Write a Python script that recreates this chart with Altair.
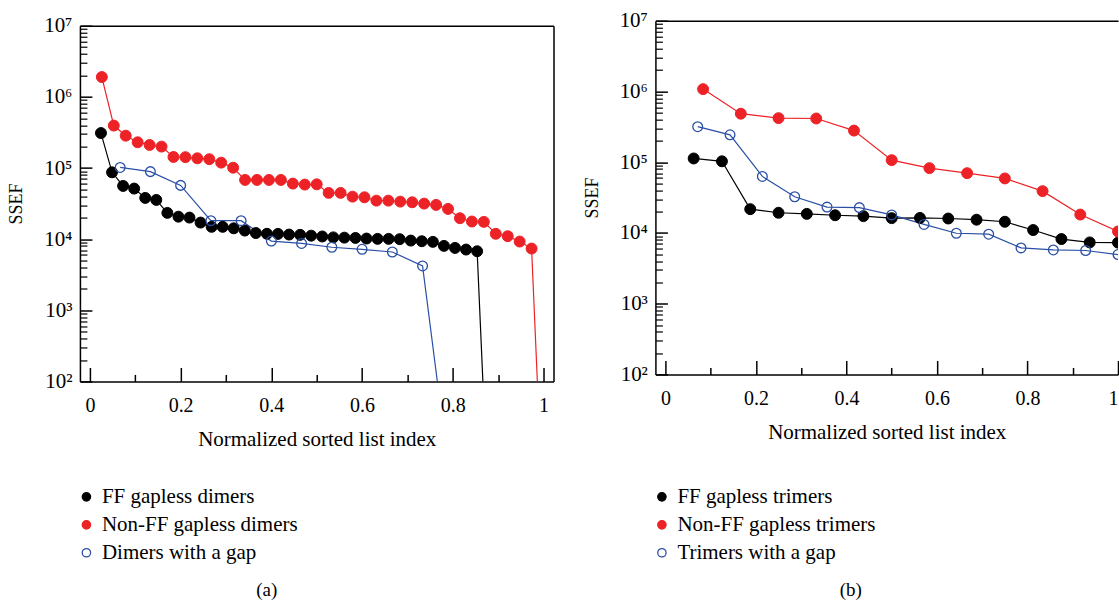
import altair as alt
import pandas as pd

FONT = "Liberation Serif"
BLACK, RED, BLUE = "#000000", "#ec2227", "#2a4fa6"

# ---------------- Panel (a): dimers ----------------
A_NAMES = ["FF gapless dimers", "Non-FF gapless dimers", "Dimers with a gap"]
A_TOTALS = [41, 38, 15]          # list lengths used for the normalized index
A_FF = [3.1e5, 8.7e4, 5.6e4, 5.14e4, 3.8e4, 3.56e4, 2.34e4, 2.07e4, 2.01e4, 1.71e4,
        1.49e4, 1.49e4, 1.42e4, 1.32e4, 1.22e4, 1.19e4, 1.185e4, 1.16e4, 1.15e4, 1.12e4,
        1.09e4, 1.06e4, 1.05e4, 1.04e4, 1.02e4, 1.01e4, 1.01e4, 1.0e4, 9550, 9350,
        9160, 8040, 7530, 7140, 6760, 2]
A_NONFF = [1.9e6, 3.95e5, 2.85e5, 2.3e5, 2.11e5, 2.0e5, 1.43e5, 1.42e5, 1.37e5, 1.33e5,
           1.19e5, 1.01e5, 6.8e4, 6.8e4, 6.8e4, 6.8e4, 6.04e4, 5.85e4, 5.9e4, 4.47e4,
           4.47e4, 3.96e4, 3.88e4, 3.48e4, 3.48e4, 3.37e4, 3.3e4, 3.16e4, 3.03e4, 2.66e4,
           1.97e4, 1.77e4, 1.75e4, 1.19e4, 1.1e4, 9250, 7380, 1]
A_GAP = [1.02e5, 8.9e4, 5.7e4, 1.82e4, 1.82e4, 9400, 8700, 7700, 7200, 6600, 4200, 2]

# ---------------- Panel (b): trimers ----------------
B_NAMES = ["FF gapless trimers", "Non-FF gapless trimers", "Trimers with a gap"]
B_TOTALS = [16, 12, 14]
B_FF = [1.13e5, 1.03e5, 2.17e4, 1.93e4, 1.86e4, 1.78e4, 1.73e4, 1.62e4, 1.63e4, 1.6e4,
        1.54e4, 1.44e4, 1.1e4, 8200, 7350, 7300]
B_NONFF = [1.08e6, 4.85e5, 4.2e5, 4.15e5, 2.8e5, 1.07e5, 8.25e4, 7.0e4, 5.9e4, 3.9e4,
           1.82e4, 1.05e4]
B_GAP = [3.18e5, 2.44e5, 6.3e4, 3.25e4, 2.32e4, 2.28e4, 1.8e4, 1.32e4, 9900, 9600,
         6150, 5750, 5650, 4950]

X_MAJOR = [0, 0.2, 0.4, 0.6, 0.8, 1.0]
X_MINOR = [0.1, 0.3, 0.5, 0.7, 0.9]
Y_MAJOR = [1e2, 1e3, 1e4, 1e5, 1e6, 1e7]
Y_MINOR = [m * 10 ** k for k in range(2, 7) for m in range(2, 10)]


def build_df(names, totals, series):
    rows = []
    for name, total, vals in zip(names, totals, series):
        for i, v in enumerate(vals, start=1):
            rows.append({"x": i / total, "y": v, "series": name})
    return pd.DataFrame(rows)


def panel(df, names, W, H, top, xmax, right_border, caption, cap_dx, cap_offset):
    # top: vertical offset (px) of the 10^7 line inside the panel
    xs = alt.Scale(domain=[-0.022, xmax], nice=False, zero=False)
    ys = alt.Scale(type="log", domain=[1e2, 1e7], nice=False, range=[H, top])
    base = alt.Chart(df)

    sup = "['⁰','¹','²','³','⁴','⁵','⁶','⁷','⁸']"
    main_x = alt.Axis(orient="bottom", values=X_MAJOR, format="~g", grid=False,
                      tickSize=alt.ExprRef("-14"), tickWidth=1.5, tickColor="black",
                      domainColor="black", domainWidth=1.5,
                      labelFont=FONT, labelFontSize=20, labelColor="black",
                      labelBaseline="middle", labelPadding=38, labelFlush=True,
                      labelFlushOffset=0,
                      title="Normalized sorted list index", titleFont=FONT,
                      titleFontSize=21, titleFontWeight="normal", titleColor="black",
                      titleY=58, titleX=W / 2, titleBaseline="middle")
    main_y = alt.Axis(orient="left", values=Y_MAJOR, grid=False,
                      labelExpr="'10' + " + sup + "[round(log(datum.value)/LN10)]",
                      tickSize=alt.ExprRef("-12"), tickWidth=1.5, tickColor="black",
                      domainColor="black", domainWidth=1.5,
                      labelFont=FONT, labelFontSize=21, labelColor="black",
                      labelPadding=20, labelBaseline="middle",
                      title="SSEF", titleFont=FONT, titleFontSize=18,
                      titleFontWeight="normal", titleColor="black",
                      titleAngle=270, titleX=-63, titleY=(H + top) / 2,
                      titleAlign="center", titleBaseline="middle")

    minor_x = alt.Axis(orient="bottom", values=X_MINOR, grid=False, labels=False,
                       domain=False, tickSize=alt.ExprRef("-7"), tickWidth=1.5,
                       tickColor="black", title=None)
    minor_y = alt.Axis(orient="left", values=Y_MINOR, grid=False, labels=False,
                       domain=False, tickSize=alt.ExprRef("-7"), tickWidth=1.2,
                       tickColor="black", title=None)

    top_x = alt.Axis(orient="top", offset=-top, ticks=False, labels=False, grid=False,
                     domainColor="black", domainWidth=1.5, title=None)
    if right_border:
        right_y = alt.Axis(orient="right", ticks=False, labels=False, grid=False,
                           domainColor="black", domainWidth=1.5, title=None)
    else:
        right_y = None

    # line colours: own scale (domain listed in reverse so it is kept apart from the legend)
    lines = base.mark_line(clip=True, strokeWidth=1.2).encode(
        x=alt.X("x:Q", scale=xs, axis=main_x),
        y=alt.Y("y:Q", scale=ys, axis=main_y),
        color=alt.Color("series:N",
                        scale=alt.Scale(domain=names[::-1], range=[BLUE, RED, BLACK]),
                        legend=None),
    )

    leg = alt.Legend(orient="none", legendX=-4, legendY=466, title=None,
                     labelFont=FONT, labelFontSize=21, labelColor="black",
                     labelLimit=0, symbolSize=70, symbolStrokeWidth=1.3,
                     symbolType="circle", rowPadding=6, labelOffset=5)
    stroke_enc = alt.Stroke("series:N", scale=alt.Scale(domain=names, range=[BLACK, RED, BLUE]),
                            legend=leg)
    fill_enc = alt.Fill("series:N", scale=alt.Scale(domain=names, range=[BLACK, RED, "transparent"]),
                        legend=leg)

    filled = base.mark_point(shape="circle", size=120, strokeWidth=1, opacity=1,
                             clip=True).encode(
        x=alt.X("x:Q", scale=xs, axis=minor_x),
        y=alt.Y("y:Q", scale=ys, axis=minor_y),
        stroke=stroke_enc, fill=fill_enc,
    ).transform_filter(alt.FieldOneOfPredicate(field="series", oneOf=names[:2]))

    opened = base.mark_point(shape="circle", size=95, strokeWidth=1.3, opacity=1,
                             clip=True).encode(
        x=alt.X("x:Q", scale=xs, axis=top_x),
        y=alt.Y("y:Q", scale=ys, axis=right_y),
        stroke=stroke_enc, fill=fill_enc,
    ).transform_filter(alt.FieldOneOfPredicate(field="series", oneOf=names[2:]))

    return alt.layer(lines, filled, opened).resolve_axis(
        x="independent", y="independent"
    ).properties(
        width=W, height=H,
        title=alt.TitleParams(caption, orient="bottom", anchor="middle", dx=cap_dx,
                              offset=cap_offset, font=FONT, fontSize=19,
                              fontWeight="normal", color="black"),
    )


df_a = build_df(A_NAMES, A_TOTALS, [A_FF, A_NONFF, A_GAP])
df_b = build_df(B_NAMES, B_TOTALS, [B_FF, B_NONFF, B_GAP])

left = panel(df_a, A_NAMES, 474, 361, 5, 1.022, True, "(a)", -50, 18)
right = panel(df_b, B_NAMES, 463, 354, 0, 1.0, False, "(b)", -36, 18)

chart = alt.hconcat(left, right, spacing=30).resolve_scale(
    color="independent", fill="independent", stroke="independent"
).resolve_legend(
    color="independent", fill="independent", stroke="independent"
).properties(
    padding={"left": 8, "top": 9.5, "right": 0, "bottom": 0},
    background="white",
).configure_view(stroke=None)

chart.save("out.html", embed_options={"renderer": "svg", "actions": False})
